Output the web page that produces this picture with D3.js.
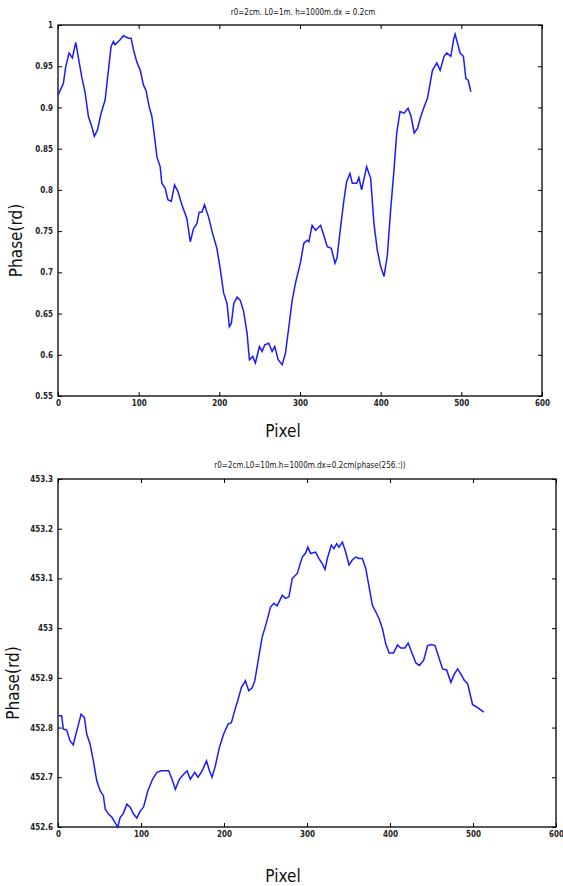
<!DOCTYPE html>
<html lang="en">
<head>
<meta charset="UTF-8">
<title>phase</title>
<style>
	body { margin:0; background:#fff; }
	svg { display:block; }
	.tick text { font-family:"DejaVu Sans Condensed","Liberation Sans Narrow",sans-serif; font-size:8px; font-weight:bold; fill:#222; }
	.tick line { stroke:#000; }
	.domain { display:none; }
	.lab { font-family:"Liberation Sans Narrow","DejaVu Sans Condensed",sans-serif; fill:#111; }
	.ttl { font-family:"DejaVu Sans Condensed",sans-serif; font-size:8px; fill:#111; }
</style>
</head>
<body>
<svg id="container" width="563" height="886"></svg>
<script src="https://cdn.jsdelivr.net/npm/d3@7"></script>
<script>
// top chart: r0=2cm, L0=1m
let titleA = "r0=2cm. L0=1m. h=1000m.dx = 0.2cm"
let pixA = [0,6.6,9.5,13.7,17.8,22,25,29.4,33.5,37.7,41.8,45,49,53.4,58.4,62.5,65.8,68.7,70.8,77,81.1,87.3,90.6,93.6,97.7,102,106,109,113,116.4,119.6,122.6,126.7,128.7,132.9,136.2,140.4,144.5,148.7,153.6,159.8,164,168,172.2,175,178.3,181.6,186.7,191.7,197,201.3,205.3,209.6,212.4,214.9,217.9,222,226,230.2,234.4,237.3,241.4,244.7,249.7,253,256.3,261.3,265.4,268.7,272.9,277.9,282,286.2,290.3,294.4,300.6,304.7,308.9,311,315,319.3,325.5,328.8,333.8,338.8,343.4,346,350.3,354.5,357.8,361.9,364.8,370.2,373,376.4,382.6,387.6,391.7,395.8,400,404.2,408.3,412.4,416.5,419.9,424,429,434,437.7,441.6,445.8,449.7,454.7,458,464.2,469.6,473.7,478.6,482,487,490.3,492.3,495.2,498.5,502.6,505.6,508.5,511.8]
let phaseA = [0.915,0.929,0.949,0.966,0.960,0.979,0.962,0.937,0.919,0.889,0.877,0.865,0.873,0.893,0.909,0.945,0.974,0.980,0.976,0.982,0.987,0.984,0.984,0.970,0.955,0.945,0.927,0.921,0.901,0.889,0.865,0.840,0.828,0.808,0.802,0.788,0.786,0.806,0.798,0.782,0.765,0.737,0.753,0.759,0.773,0.773,0.782,0.767,0.747,0.729,0.703,0.675,0.662,0.634,0.638,0.662,0.670,0.666,0.652,0.626,0.594,0.598,0.590,0.610,0.604,0.612,0.614,0.604,0.610,0.594,0.588,0.602,0.634,0.666,0.687,0.712,0.735,0.739,0.737,0.757,0.751,0.757,0.747,0.731,0.729,0.711,0.718,0.755,0.788,0.810,0.820,0.808,0.808,0.815,0.800,0.828,0.814,0.759,0.727,0.707,0.695,0.721,0.776,0.824,0.869,0.895,0.893,0.899,0.889,0.869,0.875,0.889,0.903,0.911,0.945,0.954,0.945,0.962,0.966,0.962,0.982,0.989,0.978,0.966,0.962,0.935,0.933,0.919]
let xTicksA = [0,100,200,300,400,500,600]
let yTicksA = [0.55,0.6,0.65,0.7,0.75,0.8,0.85,0.9,0.95,1]

// bottom chart: r0=2cm, L0=10m
let titleB = "r0=2cm.L0=10m.h=1000m.dx=0.2cm(phase(256.:))"
let pixB = [0.4,4.4,6.4,10.5,14.5,18.5,20.5,23.7,27.8,31.8,34.6,38.6,42.6,46.7,50.7,54.7,56.8,60.8,64.8,68.8,72,74.9,78.9,82.9,86.9,91,95,99,103,108.3,113.9,119.2,124.4,133.3,137.4,141.4,146.2,151.4,155.5,159.4,164.7,168.7,173.6,178.9,182.5,185.6,189.6,194.4,199.6,204.9,208.9,212.9,217,221,225.8,229.8,233.9,237.1,241.2,246,250.8,256,260,264,270.2,274.2,278.2,282.3,288.3,294.3,298.3,301,304.3,310.4,314.4,318.4,321.7,324.5,329.3,332.5,335.7,338.5,342.6,346.6,350.6,354.6,358.7,362.7,366.7,370.8,374.8,378.8,382.8,386.9,390.9,394.9,399,404.2,409,413,417.9,421.9,426,431.2,435.3,440.5,445.3,450.2,454.2,458.1,463.3,468.2,473.4,477.3,481.5,486.3,489.5,493.6,496.4,499.5,505.6,513]
let phaseB = [452.824,452.824,452.797,452.795,452.773,452.765,452.780,452.800,452.827,452.820,452.787,452.767,452.733,452.693,452.673,452.663,452.636,452.626,452.620,452.609,452.600,452.619,452.628,452.646,452.640,452.626,452.618,452.632,452.640,452.673,452.696,452.710,452.713,452.713,452.696,452.676,452.696,452.706,452.713,452.696,452.710,452.700,452.713,452.733,452.713,452.700,452.723,452.760,452.787,452.807,452.810,452.834,452.857,452.881,452.894,452.874,452.880,452.894,452.935,452.982,453.009,453.042,453.050,453.045,453.066,453.060,453.063,453.100,453.110,453.143,453.151,453.163,453.150,453.153,453.140,453.130,453.118,453.140,453.167,453.160,453.170,453.163,453.173,453.153,453.127,453.137,453.143,453.140,453.140,453.120,453.083,453.046,453.033,453.019,452.999,452.968,452.950,452.950,452.966,452.960,452.960,452.970,452.952,452.930,452.925,452.935,452.965,452.967,452.965,452.945,452.918,452.916,452.891,452.907,452.918,452.905,452.895,452.888,452.868,452.846,452.840,452.831]
let xTicksB = [0,100,200,300,400,500,600]
let yTicksB = [452.6,452.7,452.8,452.9,453,453.1,453.2,453.3]

let svg = d3.select("#container")

function panel(box, title, xs, ys, xTicks, yTicks, yLabX, titleY, pixelY)
{
	let g = svg.append("g")
	let xscale = d3.scaleLinear().domain([0,600]).range([box.l, box.r])
	let yscale = d3.scaleLinear().domain(d3.extent(yTicks)).range([box.b, box.t])

	g.append("g").attr("transform","translate(0,"+box.b+")")
	.call(d3.axisBottom(xscale).tickValues(xTicks).tickSize(-4).tickSizeOuter(0).tickPadding(4).tickFormat(d3.format("d")))
	g.append("g").attr("transform","translate(0,"+box.t+")")
	.call(d3.axisTop(xscale).tickValues(xTicks).tickSize(-4).tickSizeOuter(0).tickFormat(""))
	g.append("g").attr("transform","translate("+box.l+",0)")
	.call(d3.axisLeft(yscale).tickValues(yTicks).tickSize(-4).tickSizeOuter(0).tickPadding(5).tickFormat(d=>String(+d.toFixed(2))))
	g.append("g").attr("transform","translate("+box.r+",0)")
	.call(d3.axisRight(yscale).tickValues(yTicks).tickSize(-4).tickSizeOuter(0).tickFormat(""))

	g.append("rect")
	.attr("x",box.l).attr("y",box.t)
	.attr("width",box.r-box.l).attr("height",box.b-box.t)
	.attr("fill","none").attr("stroke","#000").attr("stroke-width",1.3)

	let data = xs.map((x,i)=>({x:x, v:ys[i]}))
	let valueline = d3.line()
	.x(d => xscale(d.x))
	.y(d => yscale(d.v))
	g.append("path")
	.datum(data)
	.attr("d", valueline)
	.attr("fill","none")
	.attr("stroke","#1a1aff")
	.attr("stroke-width",1.5)

	g.append("text").attr("class","ttl")
	.attr("x",(box.l+box.r)/2+3).attr("y",titleY)
	.attr("text-anchor","middle").text(title)
	g.append("text").attr("class","lab")
	.attr("x",283).attr("y",pixelY)
	.attr("text-anchor","middle").attr("font-size",17).text("Pixel")
	g.append("text").attr("class","lab")
	.attr("transform","translate("+yLabX+","+((box.t+box.b)/2+30)+") rotate(-90)")
	.attr("text-anchor","middle").attr("font-size",17).text("Phase(rd)")
}

panel({l:58,r:542,t:25,b:396}, titleA, pixA, phaseA, xTicksA, yTicksA, 22, 15, 437)
panel({l:58,r:556,t:479,b:827}, titleB, pixB, phaseB, xTicksB, yTicksB, 19, 468, 882)
</script>
</html>
